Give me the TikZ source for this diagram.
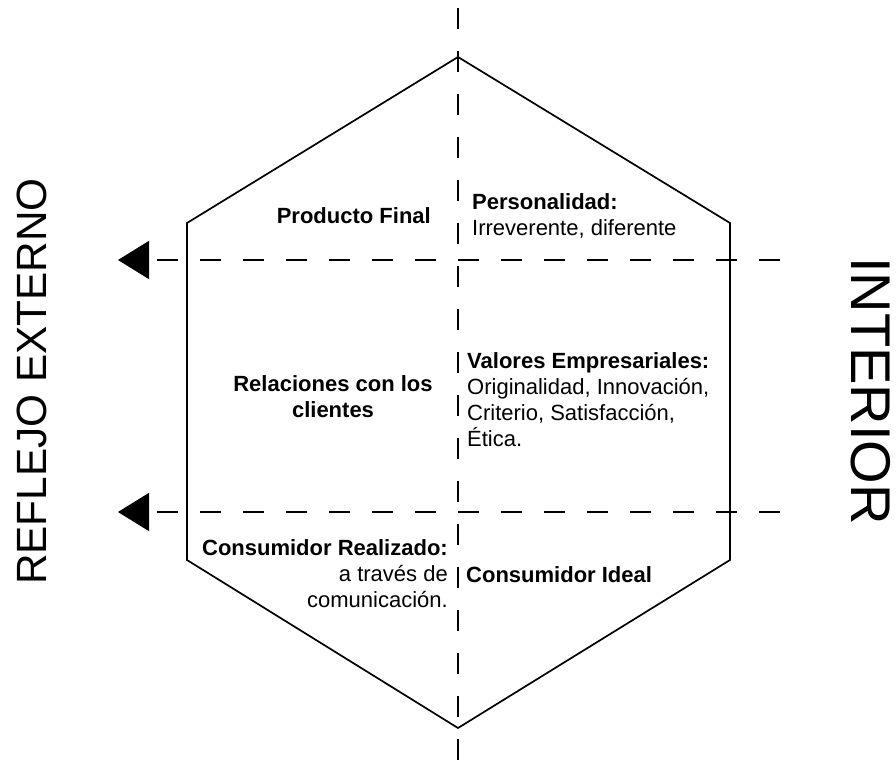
\documentclass[tikz,border=0pt]{standalone}
\usepackage{fontspec}
\setmainfont{Liberation Sans}
\usetikzlibrary{arrows.meta}
\begin{document}
\begin{tikzpicture}[x=1pt,y=-1pt,
  hexline/.style={line width=1.7pt,line join=miter},
  dashline/.style={line width=1.7pt,dash pattern=on 21pt off 22pt},
  txt/.style={inner sep=0pt,font=\fontsize{22}{25.7}\selectfont},
  side/.style={inner sep=0pt}]
\useasboundingbox (0,0) rectangle (896,776);
% hexagon
\draw[hexline] (458,57) -- (730,223) -- (730,560) -- (458,728) -- (187,560) -- (187,223) -- cycle;
% axes
\coordinate (vt) at (458,8);
\coordinate (vb) at (458,776);
\draw[dashline] (vt) -- (vb);
\coordinate (h1r) at (780,260);
\coordinate (h1l) at (118,260);
\coordinate (h2r) at (780,512);
\coordinate (h2l) at (118,512);
\draw[dashline,-{Triangle[length=31pt,width=38pt]}] (h1r) -- (h1l);
\draw[dashline,-{Triangle[length=31pt,width=38pt]}] (h2r) -- (h2l);
% texts (base anchor = baseline of last line)
\node[txt,anchor=base east,font=\fontsize{22}{25.7}\selectfont\bfseries] (pf) at (431,223) {Producto Final};
\node[txt,anchor=base west,align=left] (pers) at (472,235) {\textbf{Personalidad:}\\Irreverente, diferente};
\node[txt,anchor=base,align=center,font=\fontsize{22}{25.7}\selectfont\bfseries] (rel) at (333,417) {Relaciones con los\\clientes};
\node[txt,anchor=base west,align=left] (val) at (467,446) {\textbf{Valores Empresariales:}\\Originalidad, Innovación,\\Criterio, Satisfacción,\\Ética.};
\node[txt,anchor=base east,align=right] (cr) at (448,607) {\textbf{Consumidor Realizado:}\\a través de\\comunicación.};
\node[txt,anchor=base west,font=\fontsize{22}{25.7}\selectfont\bfseries] (ci) at (466,582) {Consumidor Ideal};
\node[side,rotate=90,font=\fontsize{42.3}{50}\selectfont] (ext) at (32,381.5) {REFLEJO EXTERNO};
\node[side,rotate=-90,font=\fontsize{56}{60}\selectfont] (int) at (870.5,391) {INTERIOR};
\end{tikzpicture}
\end{document}
